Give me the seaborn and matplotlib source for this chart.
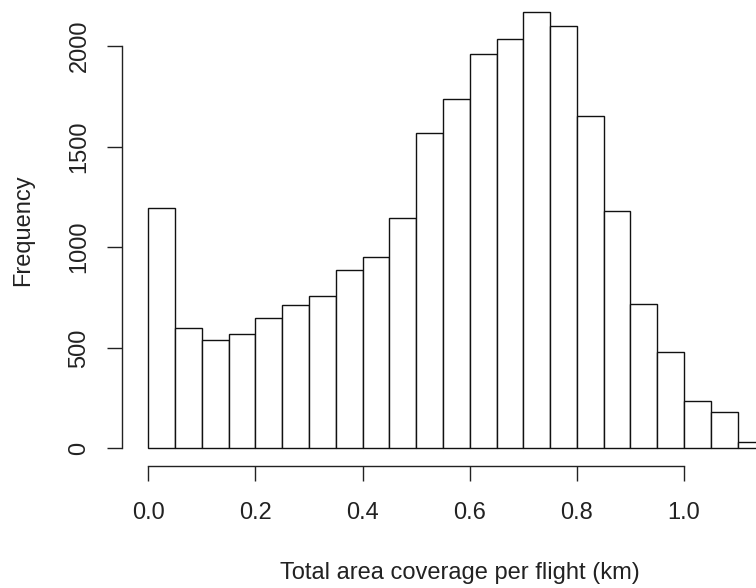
import numpy as np
import pandas as pd
import matplotlib
matplotlib.use("Agg")
import matplotlib.pyplot as plt
import seaborn as sns

# histogram bins (km), width 0.05
bin_edges = [round(0.05 * i, 2) for i in range(24)]
counts = [1194, 600, 541, 570, 650, 713, 759, 887, 950, 1144, 1569, 1735,
          1959, 2035, 2170, 2099, 1652, 1180, 717, 480, 234, 179, 30]
x_ticks = [0.0, 0.2, 0.4, 0.6, 0.8, 1.0]
y_ticks = [0, 500, 1000, 1500, 2000]

bin_centers = [(bin_edges[i] + bin_edges[i + 1]) / 2 for i in range(len(counts))]
df = pd.DataFrame({"coverage": bin_centers, "n": counts})

sns.set_style("ticks")
plt.rcParams["font.family"] = ["Liberation Sans", "DejaVu Sans"]

fig = plt.figure(figsize=(7.56, 5.88), dpi=100)
ax = fig.add_axes([0.1618, 0.2075, 1 - 0.1618, 1 - 0.2075])

sns.histplot(data=df, x="coverage", weights="n", bins=bin_edges, ax=ax,
             color="white", edgecolor="#111111", linewidth=1.0, alpha=1)

ax.set_xlim(-0.0485, 1.1344)
ax.set_ylim(-87, 2228)

# R style axes: detached spines limited to tick range
sns.despine(ax=ax)
ax.spines["left"].set_bounds(0, 2000)
ax.spines["bottom"].set_bounds(0, 1.0)
for s in ["left", "bottom"]:
    ax.spines[s].set_linewidth(1.0)
    ax.spines[s].set_color("#222222")

ax.set_xticks(x_ticks)
ax.set_xticklabels([f"{v:.1f}" for v in x_ticks])
ax.set_yticks(y_ticks)
ax.set_yticklabels([str(v) for v in y_ticks])
ax.tick_params(axis="both", direction="out", length=11, width=1.0,
               labelsize=17, color="#222222", labelcolor="#222222")
ax.tick_params(axis="x", pad=15)
ax.tick_params(axis="y", pad=12)
for lab in ax.get_yticklabels():
    lab.set_rotation(90)
    lab.set_va("center")

ax.set_xlabel("Total area coverage per flight (km)", fontsize=17, color="#222222")
ax.set_ylabel("Frequency", fontsize=17, color="#222222")
ax.xaxis.set_label_coords(0.533, -0.205)
ax.yaxis.set_label_coords(-0.1393, 0.5064)

fig.savefig("out.png", dpi=100)
